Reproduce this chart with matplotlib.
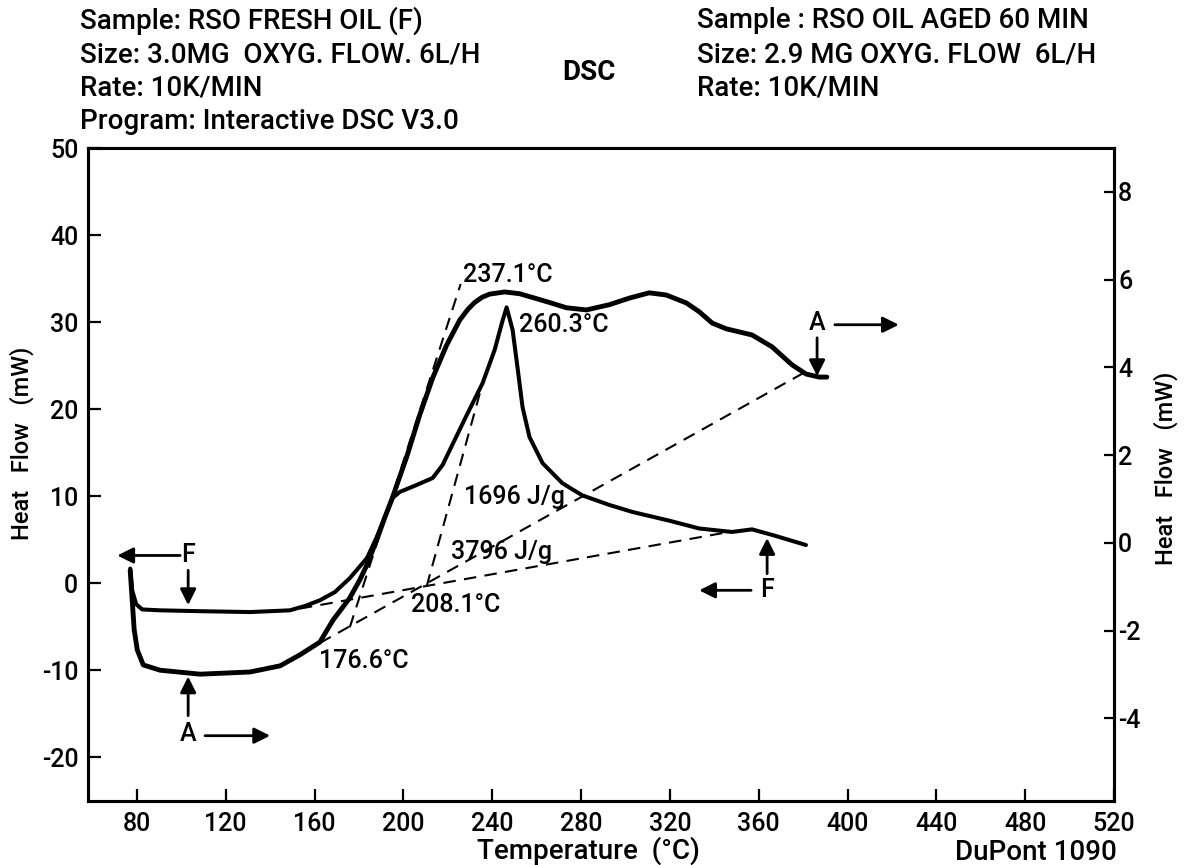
import matplotlib
matplotlib.use("Agg")
import matplotlib.pyplot as plt

plt.rcParams['font.family'] = ['Roboto', 'DejaVu Sans']
plt.rcParams['font.weight'] = 'medium'
plt.rcParams['axes.unicode_minus'] = False

# ---------------- data ----------------
# Fresh oil (F), left axis, mW
F_temp = [77.0, 77.9, 79.7, 82.4, 90.5, 108.5, 131.0, 148.9, 155.7, 162.4, 169.2,
          175.9, 183.6, 188.0, 191.6, 195.2, 198.4, 205.1, 213.2, 217.7, 220.9,
          228.5, 235.7, 241.1, 244.7, 246.5, 249.2, 251.4, 253.7, 256.8, 262.7,
          271.6, 280.6, 292.8, 303.1, 319.7, 333.2, 348.0, 357.0, 366.9, 381.3]
F_flow = [1.7, -0.8, -2.4, -3.0, -3.1, -3.2, -3.3, -3.1, -2.6, -1.95, -1.0,
          0.6, 2.9, 5.3, 7.6, 9.8, 10.5, 11.2, 12.1, 13.6, 15.3,
          19.3, 23.0, 26.8, 30.2, 31.7, 29.1, 24.8, 20.2, 16.8, 13.8,
          11.5, 10.1, 9.0, 8.2, 7.2, 6.3, 5.9, 6.2, 5.5, 4.4]

# Aged oil (A), right axis, mW
A_temp = [77.0, 77.9, 78.8, 80.2, 82.9, 90.5, 108.5, 131.0, 144.5, 153.4, 162.4,
          168.3, 175.9, 180.4, 183.6, 188.0, 191.6, 195.2, 201.5, 207.4, 213.2,
          219.5, 225.4, 229.0, 232.1, 235.5, 238.8, 245.6, 252.3, 259.1, 265.8,
          273.4, 282.4, 292.8, 301.8, 310.7, 318.4, 327.4, 333.2, 339.1, 345.4,
          357.0, 366.0, 375.0, 381.3, 387.2, 390.7]
A_flow = [-0.62, -1.30, -1.98, -2.44, -2.78, -2.90, -2.99, -2.94, -2.80, -2.55, -2.26,
          -1.76, -1.25, -0.84, -0.50, 0.07, 0.57, 1.05, 1.96, 2.92, 3.76,
          4.51, 5.08, 5.32, 5.48, 5.60, 5.67, 5.72, 5.68, 5.58, 5.48,
          5.36, 5.31, 5.43, 5.58, 5.70, 5.65, 5.47, 5.27, 5.01, 4.88,
          4.74, 4.47, 4.06, 3.85, 3.78, 3.78]

# construction lines (endpoints)
F_base_T = [153.4, 348.9]
F_base_y = [-2.9, 6.0]
F_tan_T = [210.5, 235.7]
F_tan_y = [-0.34, 23.0]
A_base_T = [162.4, 380.4]
A_base_y = [-2.28, 3.88]
A_tan_T = [175.9, 225.8]
A_tan_y = [-1.92, 5.90]

x_ticks = [80, 120, 160, 200, 240, 280, 320, 360, 400, 440, 480, 520]
left_ticks = [-20, -10, 0, 10, 20, 30, 40, 50]
right_ticks = [-4, -2, 0, 2, 4, 6, 8]

annot_text = ["237.1°C", "260.3°C", "1696 J/g", "3796 J/g", "208.1°C", "176.6°C"]
annot_T = [226.8, 252.0, 227.3, 221.4, 203.5, 162.2]
annot_y = [35.4, 29.7, 9.9, 3.6, -2.5, -8.9]

header_left = ["Sample: RSO FRESH OIL (F)", "Size: 3.0MG  OXYG. FLOW. 6L/H",
               "Rate: 10K/MIN", "Program: Interactive DSC V3.0"]
header_right = ["Sample : RSO OIL AGED 60 MIN", "Size: 2.9 MG OXYG. FLOW  6L/H",
                "Rate: 10K/MIN"]

# ---------------- figure ----------------
W, H = 1186, 865
fig = plt.figure(figsize=(W / 100, H / 100), dpi=100)
fig.patch.set_facecolor('white')
ax = fig.add_axes([88 / W, 1 - 801 / H, (1114 - 88) / W, (801 - 148) / H])
ax2 = ax.twinx()

FS = 18
ax.set_xlim(58, 520)
ax.set_ylim(-25, 50)
ax2.set_ylim(-5.88, 9.0)

ax.plot(F_temp, F_flow, color='black', lw=2.9, solid_capstyle='round', solid_joinstyle='round')
ax2.plot(A_temp, A_flow, color='black', lw=3.5, solid_capstyle='round', solid_joinstyle='round')

dash = dict(color='black', lw=1.5, dashes=(6, 4))
ax.plot(F_base_T, F_base_y, **dash)
ax.plot(F_tan_T, F_tan_y, **dash)
ax2.plot(A_base_T, A_base_y, **dash)
ax2.plot(A_tan_T, A_tan_y, **dash)

for s, t, y in zip(annot_text, annot_T, annot_y):
    ax.text(t, y, s, fontsize=FS, ha='left', va='center', color='black')

# arrows and letters
ap = dict(arrowstyle='-|>', color='black', lw=2.0, mutation_scale=24, shrinkA=0, shrinkB=0)
ax.annotate('', xy=(71.2, 3.2), xytext=(99.5, 3.2), arrowprops=ap)
ax.text(103.1, 3.2, 'F', fontsize=FS, ha='center', va='center')
ax.annotate('', xy=(103.1, -2.5), xytext=(103.1, 1.5), arrowprops=ap)

ax.text(103.1, -17.3, 'A', fontsize=FS, ha='center', va='center')
ax.annotate('', xy=(103.1, -10.7), xytext=(103.1, -15.2), arrowprops=ap)
ax.annotate('', xy=(140.0, -17.5), xytext=(110.7, -17.5), arrowprops=ap)

ax.text(386.3, 29.9, 'A', fontsize=FS, ha='center', va='center')
ax.annotate('', xy=(423.1, 29.7), xytext=(394.3, 29.7), arrowprops=ap)
ax.annotate('', xy=(386.3, 23.8), xytext=(386.3, 28.2), arrowprops=ap)

ax.text(363.8, -0.8, 'F', fontsize=FS, ha='center', va='center')
ax.annotate('', xy=(333.2, -0.8), xytext=(356.6, -0.8), arrowprops=ap)
ax.annotate('', xy=(363.8, 5.2), xytext=(363.8, 1.1), arrowprops=ap)

# axes styling
for a in (ax, ax2):
    for sp in a.spines.values():
        sp.set_linewidth(2.2)
        sp.set_color('black')

ax.set_xticks(x_ticks)
ax.set_xticklabels([str(v) for v in x_ticks])
ax.set_yticks(left_ticks)
ax.set_yticklabels([str(v) for v in left_ticks])
ax.tick_params(axis='x', direction='in', length=9, width=1.6, labelsize=FS, pad=8)
ax.tick_params(axis='y', direction='in', length=9, width=1.6, labelsize=FS, pad=7)
ax2.set_yticks(right_ticks)
ax2.set_yticklabels([str(v) for v in right_ticks])
ax2.tick_params(axis='y', direction='in', length=7, width=1.6, labelsize=FS, pad=3)

# axis labels (figure text for placement)
fig.text(22 / W, 1 - 443 / H, 'Heat   Flow   (mW)', rotation=90, fontsize=17,
         ha='center', va='center')
fig.text(1166 / W, 1 - 468 / H, 'Heat   Flow   (mW)', rotation=90, fontsize=17,
         ha='center', va='center')
fig.text(588 / W, 1 - 851 / H, 'Temperature  (°C)', fontsize=20, ha='center', va='center')
fig.text(1117 / W, 1 - 852 / H, 'DuPont 1090', fontsize=20, ha='right', va='center')

# headers
for i, s in enumerate(header_left):
    fig.text(80 / W, 1 - (21 + 33.5 * i) / H, s, fontsize=20, ha='left', va='center')
for i, s in enumerate(header_right):
    fig.text(697 / W, 1 - (21 + 33.5 * i) / H, s, fontsize=20, ha='left', va='center')
fig.text(589 / W, 1 - 73 / H, 'DSC', fontsize=20, ha='center', va='center', fontweight='bold')

fig.savefig('out.png', dpi=100, facecolor='white')
